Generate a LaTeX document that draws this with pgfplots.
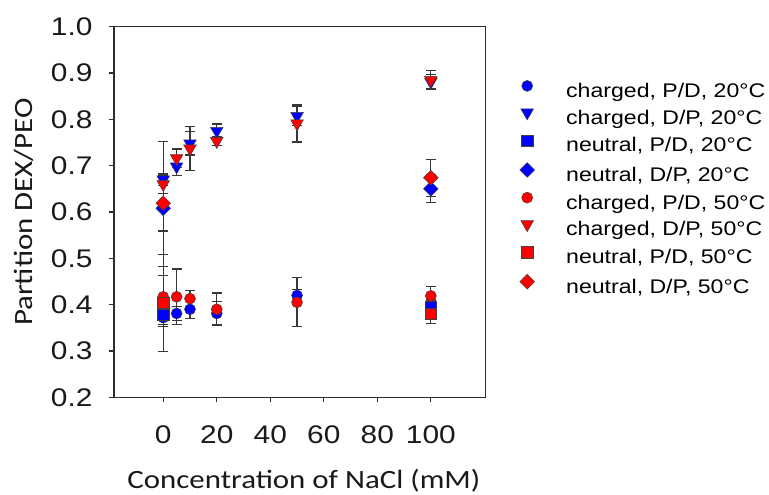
\documentclass[border=0pt]{standalone}
\usepackage{fontspec}
\setmainfont{Liberation Sans}[FakeStretch=1.17]
\newfontfamily\calibri{Carlito}[FakeStretch=1.17]
\usepackage{pgfplots}
\pgfplotsset{compat=1.18}
\definecolor{axgray}{RGB}{45,45,45}
\definecolor{errgray}{RGB}{55,55,55}
\definecolor{mblue}{RGB}{0,0,255}
\definecolor{mred}{RGB}{255,0,0}
\pgfplotsset{
  errb/.style={error bars/.cd, y dir=both, y explicit,
    error bar style={errgray, line width=1.2bp},
    error mark options={rotate=90, errgray, line width=1.2bp, mark size=5bp}},
  mk/.style n args={3}{only marks, mark=#1, mark options={fill=#2, draw=black!75, line width=0.5bp, #3}},
}
\begin{document}
\begin{tikzpicture}
\useasboundingbox (-114bp,-97.7bp) rectangle (655bp,397.3bp);
\begin{axis}[
  scale only axis, width=371.7bp, height=370.6bp,
  xmin=-18.4, xmax=120.5, ymin=0.2, ymax=1.0,
  xtick={0,20,40,60,80,100},
  ytick={0.2,0.3,0.4,0.5,0.6,0.7,0.8,0.9,1.0},
  yticklabel style={xshift=-13bp, /pgf/number format/fixed, /pgf/number format/fixed zerofill, /pgf/number format/precision=1},
  /pgf/number format/assume math mode=true,
  tick align=outside, xtick pos=bottom, ytick pos=left,
  major tick length=5bp, minor tick num=0,
  tick style={axgray, line width=1.1bp},
  axis line style={axgray, line width=1.2bp},
  ticklabel style={font=\fontsize{25.6}{28}\selectfont, text=black!90},
  xticklabel style={yshift=-20bp},
  every axis x label/.style={at={(rel axis cs:0.5,0)}, anchor=center, yshift=-83bp, xshift=4bp},
  every axis y label/.style={at={(rel axis cs:0,0.5)}, xshift=-90bp, anchor=center, rotate=90},
  xlabel={Concentration of NaCl (mM)},
  ylabel={Partition DEX/PEO},
  label style={font=\calibri\fontsize{26.5}{30}\selectfont, text=black!90},
  legend style={at={(rel axis cs:1,1)}, anchor=north west, xshift=29.3bp, yshift=-53.5bp,
    draw=none, fill=none, inner sep=0pt, row sep=5.7bp,
    font=\fontsize{19.8}{23}\selectfont,
    nodes={text height=16bp, text depth=5bp, inner xsep=0pt, inner ysep=0pt}},
  legend cell align=left,
  legend image code/.code={\path[draw=none, fill=none] (0bp,-5bp) rectangle (51bp,5bp); \draw[#1] plot coordinates {(12bp,6bp)};},
]
% blue circle: charged P/D 20C
\addplot[mk={*}{mblue}{}, mark size=5.5bp, errb] table[x=x, y=y, y error=e] {
x y e
0 0.372 0.015
5 0.381 0.015
10 0.390 0.020
20 0.381 0.025
50 0.420 0.012
100 0.400 0.020
};
% blue triangle: charged D/P 20C
\addplot[mk={triangle*}{mblue}{rotate=180}, mark size=7.3bp, errb] table[x=x, y=y, y error=e] {
x y e
0 0.670 0.012
5 0.698 0.020
10 0.748 0.025
20 0.775 0.015
50 0.807 0.020
100 0.881 0.015
};
% blue square: neutral P/D 20C
\addplot[mk={square*}{mblue}{}, mark size=5.6bp, errb] table[x=x, y=y, y error=e] {
x y e
0 0.378 0.020
100 0.395 0.015
};
% blue diamond: neutral D/P 20C
\addplot[mk={square*}{mblue}{rotate=45}, mark size=5.2bp, errb] table[x=x, y=y, y error=e] {
x y e
0 0.608 0.145
100 0.650 0.030
};
% red circle: charged P/D 50C
\addplot[mk={*}{mred}{}, mark size=5.5bp, errb] table[x=x, y=y, y error=e] {
x y e
0 0.417 0.065
5 0.417 0.060
10 0.413 0.018
20 0.390 0.035
50 0.405 0.053
100 0.419 0.020
};
% red triangle: charged D/P 50C
\addplot[mk={triangle*}{mred}{rotate=180}, mark size=7.3bp, errb] table[x=x, y=y, y error=e] {
x y e
0 0.660 0.020
5 0.716 0.020
10 0.737 0.048
20 0.753 0.010
50 0.791 0.040
100 0.885 0.020
};
% red square: neutral P/D 50C
\addplot[mk={square*}{mred}{}, mark size=5.6bp, errb] table[x=x, y=y, y error=e] {
x y e
0 0.404 0.105
100 0.381 0.022
};
% red diamond: neutral D/P 50C
\addplot[mk={square*}{mred}{rotate=45}, mark size=5.2bp, errb] table[x=x, y=y, y error=e] {
x y e
0 0.619 0.060
100 0.674 0.040
};
\legend{charged{,} P/D{,} 20°C, charged{,} D/P{,} 20°C, neutral{,} P/D{,} 20°C, neutral{,} D/P{,} 20°C,
        charged{,} P/D{,} 50°C, charged{,} D/P{,} 50°C, neutral{,} P/D{,} 50°C, neutral{,} D/P{,} 50°C}
\end{axis}
\end{tikzpicture}
\end{document}
